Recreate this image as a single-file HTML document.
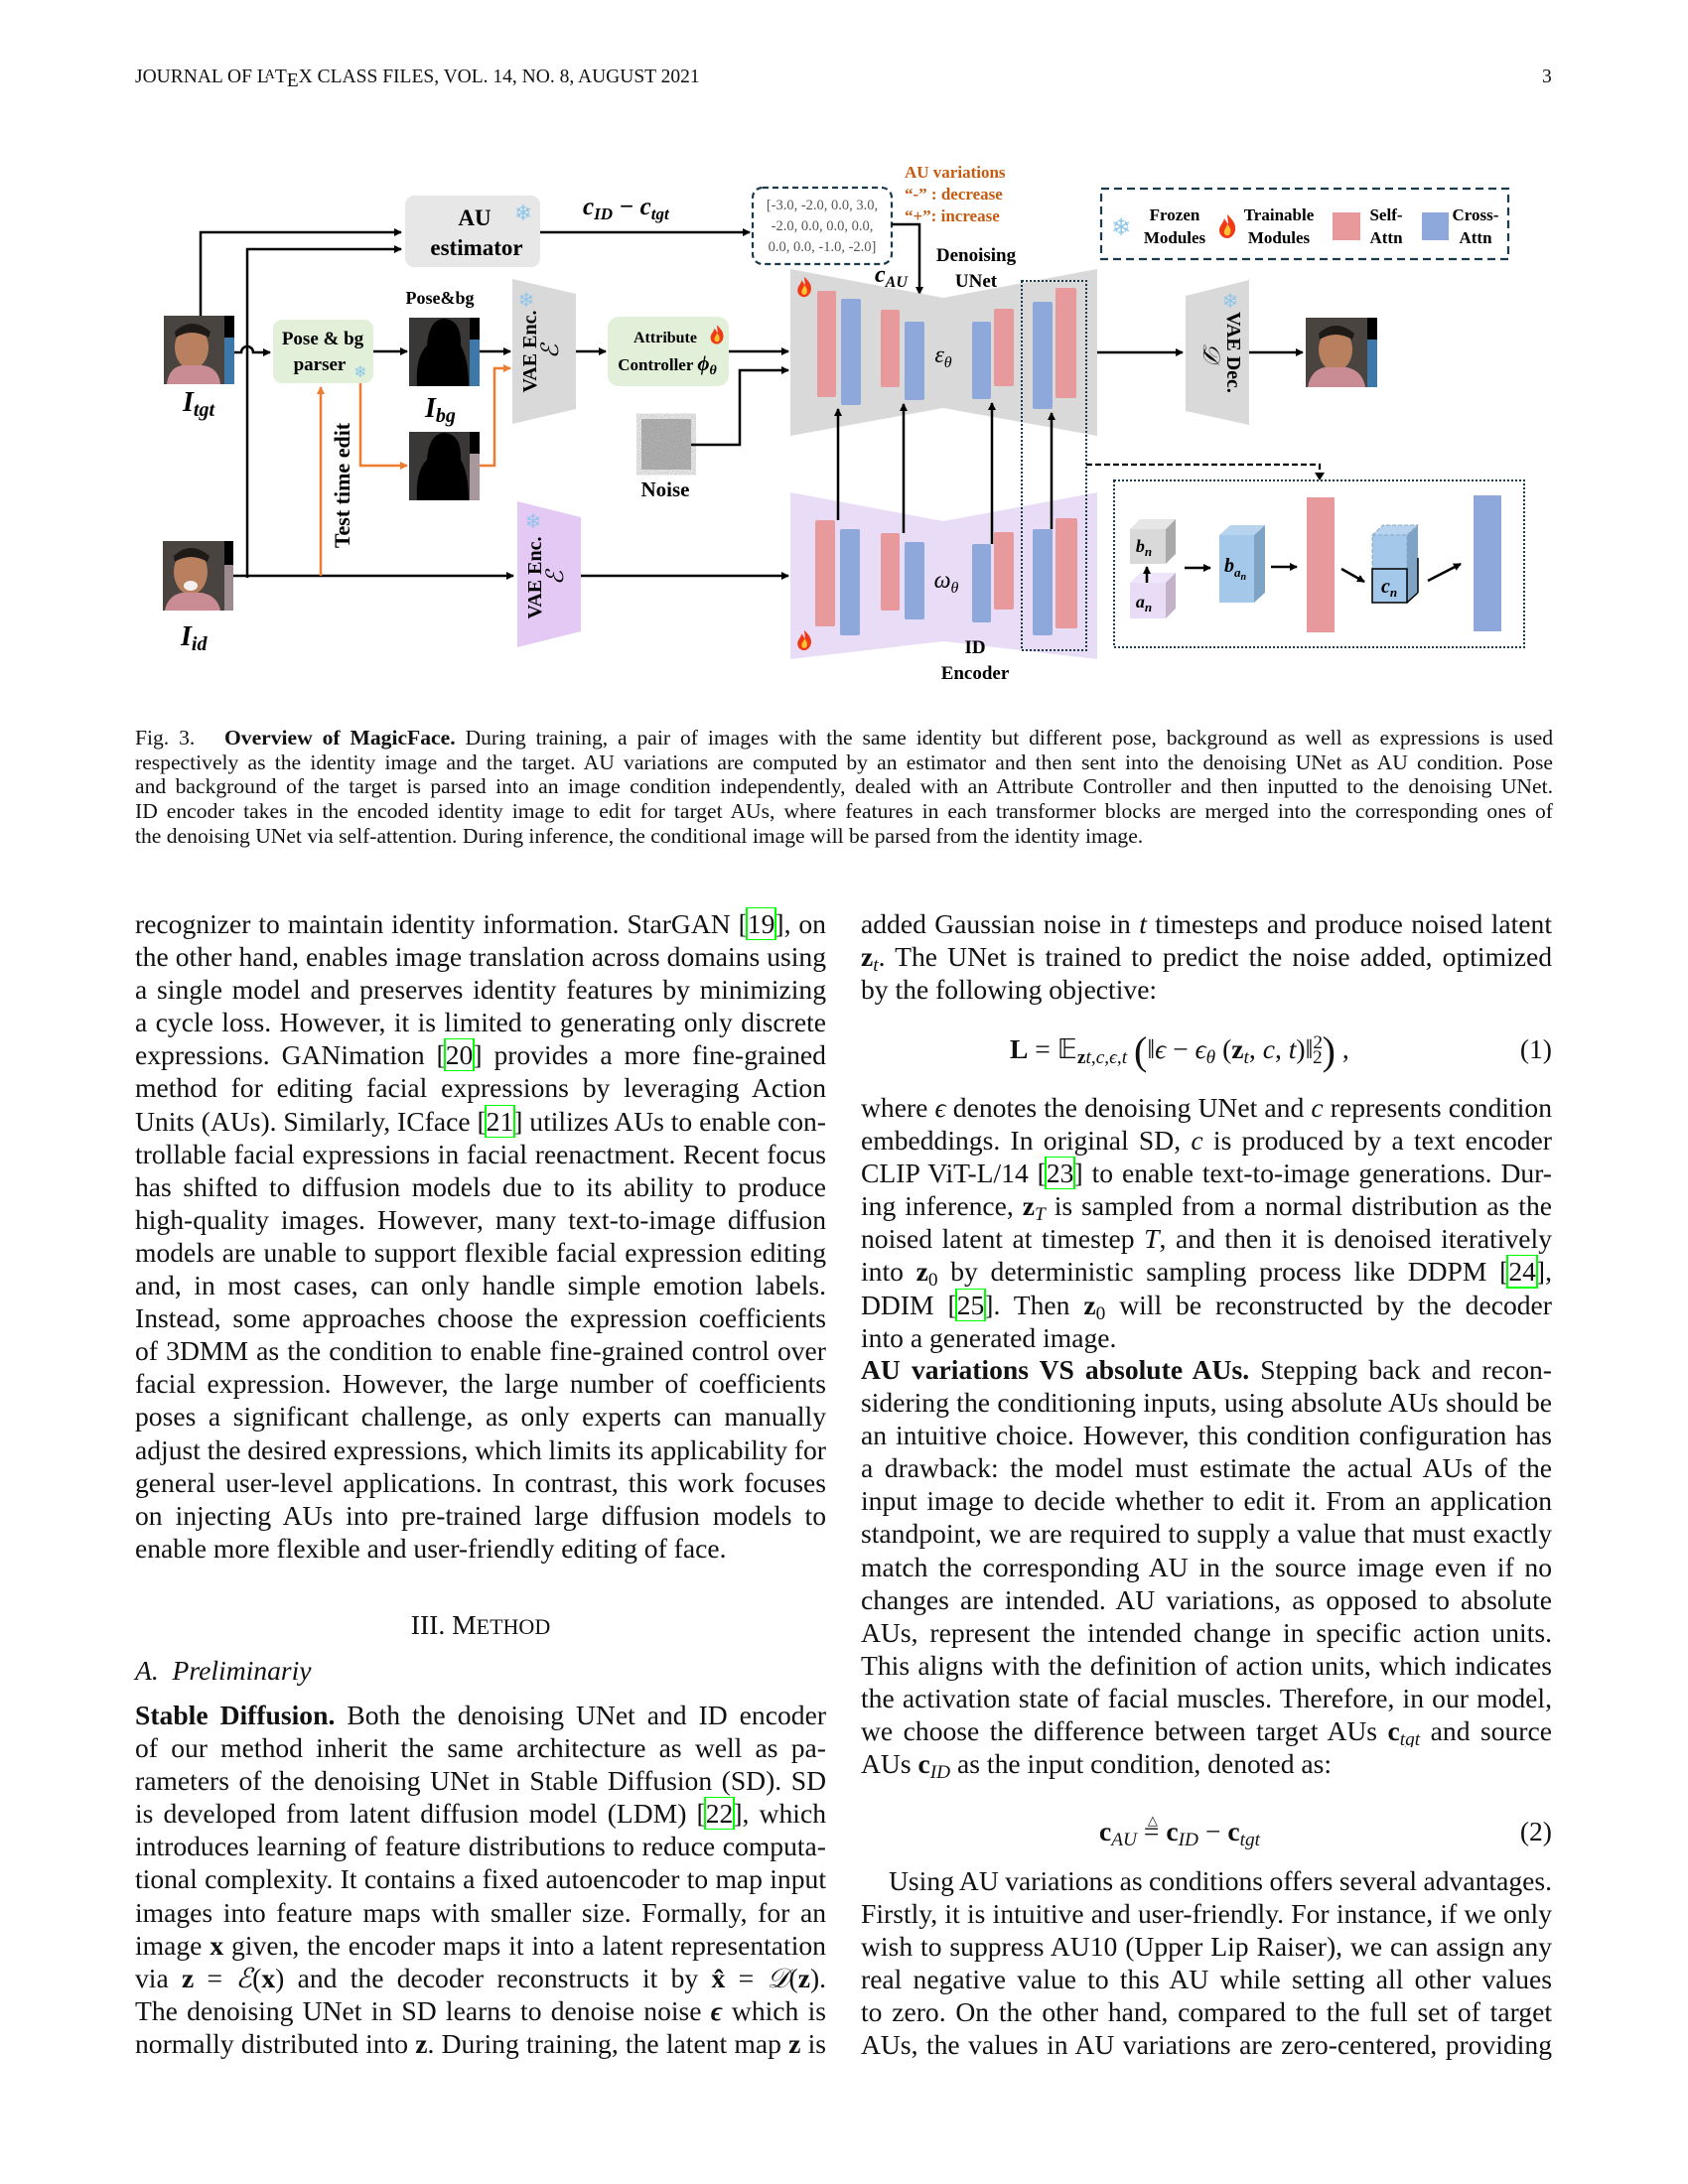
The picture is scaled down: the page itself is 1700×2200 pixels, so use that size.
<!DOCTYPE html>
<html><head><meta charset="utf-8">
<style>
*{margin:0;padding:0;box-sizing:border-box}
body{width:1700px;height:2200px;background:#fff;position:relative;overflow:hidden;font-family:"Liberation Serif",serif;color:#111}
.hdr{position:absolute;top:67px;font-size:19.5px;white-space:nowrap}
.col{position:absolute;width:696px;font-size:27.6px;line-height:33.1px}
.l{height:33.1px;overflow:hidden;text-align:justify;text-align-last:justify;white-space:normal;word-spacing:-3px}
.e{height:33.1px;overflow:hidden;text-align:left;white-space:nowrap}
.cap{position:absolute;left:136px;top:731px;width:1428px;font-size:21.6px;line-height:24.7px}
.cap .l,.cap .e{height:24.7px}
.r{outline:2px solid #00ff00;outline-offset:0}
b.m{font-weight:bold}
sub{font-size:0.7em;line-height:0;vertical-align:-0.25em}
sup{font-size:0.7em;line-height:0}
</style></head><body>
<div class="hdr" style="left:136px">JOURNAL OF L<span style="font-size:14px;vertical-align:4px;margin-left:-4px">A</span>T<span style="vertical-align:-4px">E</span>X CLASS FILES, VOL. 14, NO. 8, AUGUST 2021</div>
<div class="hdr" style="left:1553px">3</div>

<svg style="position:absolute;left:0;top:0" width="1700" height="700" viewBox="0 0 1700 700" font-family="Liberation Serif, serif">
<defs>
<marker id="ah" markerWidth="8" markerHeight="8" refX="7" refY="4" orient="auto" markerUnits="userSpaceOnUse"><path d="M0,0 L8,4 L0,8 z" fill="#000"/></marker>
<marker id="ao" markerWidth="8" markerHeight="8" refX="7" refY="4" orient="auto" markerUnits="userSpaceOnUse"><path d="M0,0 L8,4 L0,8 z" fill="#ed7d31"/></marker>
<filter id="nz"><feTurbulence type="fractalNoise" baseFrequency="0.9" numOctaves="2" seed="3"/><feColorMatrix type="saturate" values="0"/></filter>
<g id="fl"><path d="M0,-12 C6,-6 9,-2 8,4 C7,9 3,12 0,12 C-4,12 -8,9 -8,4 C-8,-1 -4,-3 -3,-8 C-1,-5 0,-3 1,-2 C1,-6 0,-9 0,-12z" fill="#f03a17"/><path d="M0,-2 C3,1 4,4 3,7 C2,10 -2,10 -3,7 C-4,4 -1,2 0,-2z" fill="#ffc531"/></g>
</defs>

<g>
<rect x="165" y="318" width="61" height="69" fill="#4a4440"/>
<ellipse cx="193" cy="350" rx="17" ry="22" fill="#b9805f"/>
<path d="M176,334 Q193,318 212,334 L210,340 Q193,330 177,340z" fill="#1e1a18"/>
<path d="M168,387 Q170,370 184,368 L204,368 Q220,370 222,387z" fill="#c98c95"/>
<rect x="226" y="318" width="10" height="22" fill="#000"/><rect x="226" y="340" width="10" height="47" fill="#3c78aa"/>
</g>
<text x="184" y="414" font-size="28" font-weight="bold" font-style="italic">I<tspan font-size="20" dy="5">tgt</tspan></text>
<g>
<rect x="164" y="545" width="62" height="70" fill="#4a4440"/>
<ellipse cx="192" cy="576" rx="17" ry="23" fill="#b9805f"/>
<path d="M175,560 Q192,544 211,560 L209,566 Q192,556 176,566z" fill="#1e1a18"/>
<ellipse cx="192" cy="590" rx="7" ry="5" fill="#f4f0ee"/>
<path d="M166,615 Q169,600 183,597 L203,597 Q219,600 222,615z" fill="#c98c95"/>
<rect x="226" y="545" width="9" height="24" fill="#000"/><rect x="226" y="569" width="9" height="46" fill="#9c8c92"/>
</g>
<text x="182" y="650" font-size="28" font-weight="bold" font-style="italic">I<tspan font-size="20" dy="5">id</tspan></text>

<rect x="408" y="197" width="136" height="72" rx="9" fill="#e7e7e7"/>
<text x="478" y="227" font-size="23" font-weight="bold" text-anchor="middle">AU</text>
<text x="480" y="257" font-size="23" font-weight="bold" text-anchor="middle">estimator</text>
<text x="527" y="222" font-size="22" fill="#8ec5e8" text-anchor="middle" font-family="DejaVu Sans">❄</text>
<text x="587" y="216" font-size="25" font-weight="bold" font-style="italic">c<tspan font-size="17" dy="5">ID</tspan><tspan dy="-5"> − c</tspan><tspan font-size="17" dy="5">tgt</tspan></text>

<polyline points="202,318 202,234 404,234" fill="none" stroke="#000" stroke-width="2.5" marker-end="url(#ah)"/>
<polyline points="249,582 249,251 404,251" fill="none" stroke="#000" stroke-width="2.5" marker-end="url(#ah)"/>
<path d="M236,355 L243,355 A6,6 0 0 1 255,355 L272,355" fill="none" stroke="#000" stroke-width="2.5" marker-end="url(#ah)"/>
<line x1="235" y1="580" x2="517" y2="580" stroke="#000" stroke-width="2.5" marker-end="url(#ah)"/>

<rect x="758" y="189" width="140" height="77" rx="10" fill="none" stroke="#1b3a4b" stroke-width="2.2" stroke-dasharray="6,4"/>
<text x="828" y="211" font-size="14.5" fill="#555" text-anchor="middle">[-3.0, -2.0, 0.0, 3.0,</text>
<text x="828" y="232" font-size="14.5" fill="#555" text-anchor="middle">-2.0, 0.0, 0.0, 0.0,</text>
<text x="828" y="253" font-size="14.5" fill="#555" text-anchor="middle">0.0, 0.0, -1.0, -2.0]</text>
<line x1="544" y1="234" x2="755" y2="234" stroke="#000" stroke-width="2.5" marker-end="url(#ah)"/>
<text x="911" y="179" font-size="17" font-weight="bold" fill="#c55a11">AU variations</text>
<text x="911" y="201" font-size="17" font-weight="bold" fill="#c55a11">“-” : decrease</text>
<text x="911" y="223" font-size="17" font-weight="bold" fill="#c55a11">“+”: increase</text>
<polyline points="898,226 926,226 926,296" fill="none" stroke="#000" stroke-width="2.5" marker-end="url(#ah)"/>
<text x="881" y="284" font-size="24" font-weight="bold" font-style="italic">c<tspan font-size="16" dy="5">AU</tspan></text>
<text x="983" y="263" font-size="19" font-weight="bold" text-anchor="middle">Denoising</text>
<text x="983" y="289" font-size="19" font-weight="bold" text-anchor="middle">UNet</text>

<rect x="275" y="322" width="101" height="64" rx="9" fill="#e2f0d9"/>
<text x="325" y="347" font-size="19" font-weight="bold" text-anchor="middle">Pose &amp; bg</text>
<text x="322" y="373" font-size="19" font-weight="bold" text-anchor="middle">parser</text>
<text x="363" y="380" font-size="16" fill="#8ec5e8" text-anchor="middle" font-family="DejaVu Sans">❄</text>
<text x="443" y="306" font-size="18" font-weight="bold" text-anchor="middle">Pose&amp;bg</text>
<line x1="376" y1="354" x2="410" y2="354" stroke="#000" stroke-width="2.5" marker-end="url(#ah)"/>

<rect x="412" y="320" width="61" height="69" fill="#3a3836"/>
<path d="M420,389 Q418,360 430,348 Q432,322 447,321 Q465,322 464,348 Q472,362 472,389z" fill="#000"/>
<rect x="473" y="320" width="10" height="22" fill="#000"/><rect x="473" y="342" width="10" height="47" fill="#3c78aa"/>
<text x="428" y="420" font-size="28" font-weight="bold" font-style="italic">I<tspan font-size="20" dy="5">bg</tspan></text>
<rect x="412" y="435" width="61" height="69" fill="#3a3836"/>
<path d="M420,504 Q418,475 430,463 Q432,437 447,436 Q465,437 464,463 Q472,477 472,504z" fill="#000"/>
<rect x="473" y="435" width="10" height="22" fill="#000"/><rect x="473" y="457" width="10" height="47" fill="#a8979d"/>
<line x1="483" y1="354" x2="514" y2="354" stroke="#000" stroke-width="2.5" marker-end="url(#ah)"/>

<line x1="323" y1="580" x2="323" y2="390" stroke="#ed7d31" stroke-width="2.5" marker-end="url(#ao)"/>
<polyline points="363,386 363,469 410,469" fill="none" stroke="#ed7d31" stroke-width="2.5" marker-end="url(#ao)"/>
<polyline points="483,469 498,469 498,371 514,371" fill="none" stroke="#ed7d31" stroke-width="2.5" marker-end="url(#ao)"/>
<text transform="translate(352,489) rotate(-90)" font-size="22" font-weight="bold" text-anchor="middle">Test time edit</text>

<polygon points="516,281 580,296 580,412 516,427" fill="#d9d9d9"/>
<text transform="translate(540,354) rotate(-90)" font-size="20" font-weight="bold" text-anchor="middle">VAE Enc.</text>
<text transform="translate(562,354) rotate(-90)" font-size="24" font-style="italic" text-anchor="middle">ℰ</text>
<text x="530" y="309" font-size="20" fill="#8ec5e8" text-anchor="middle" font-family="DejaVu Sans">❄</text>
<line x1="580" y1="354" x2="610" y2="354" stroke="#000" stroke-width="2.5" marker-end="url(#ah)"/>
<polygon points="521,505 585,521 585,636 521,652" fill="#e4c9f5"/>
<text transform="translate(545,582) rotate(-90)" font-size="20" font-weight="bold" text-anchor="middle">VAE Enc.</text>
<text transform="translate(567,582) rotate(-90)" font-size="24" font-style="italic" text-anchor="middle">ℰ</text>
<text x="537" y="532" font-size="20" fill="#8ec5e8" text-anchor="middle" font-family="DejaVu Sans">❄</text>
<line x1="585" y1="580" x2="794" y2="580" stroke="#000" stroke-width="2.5" marker-end="url(#ah)"/>

<rect x="612" y="319" width="122" height="70" rx="11" fill="#e2f0d9"/>
<text x="670" y="345" font-size="16" font-weight="bold" text-anchor="middle">Attribute</text>
<use href="#fl" transform="translate(722,337) scale(0.8)"/>
<text x="672" y="373" font-size="17" font-weight="bold" text-anchor="middle">Controller <tspan font-style="italic" font-size="21">ϕ</tspan><tspan font-style="italic" font-size="14" dy="4">θ</tspan></text>
<line x1="734" y1="354" x2="794" y2="354" stroke="#000" stroke-width="2.5" marker-end="url(#ah)"/>
<rect x="646" y="422" width="50" height="51" fill="#888" filter="url(#nz)"/>
<rect x="646" y="422" width="50" height="51" fill="#777" opacity="0.5"/>
<text x="670" y="500" font-size="21" font-weight="bold" text-anchor="middle">Noise</text>
<polyline points="696,448 745,448 745,373 794,373" fill="none" stroke="#000" stroke-width="2.5" marker-end="url(#ah)"/>

<polygon points="796,271 950,300 1105,271 1105,439 950,411 796,439" fill="#d9d9d9"/>
<g fill="#e8999b"><rect x="823" y="293" width="19" height="107" rx="2"/><rect x="887" y="312" width="19" height="78" rx="2"/><rect x="1001" y="311" width="20" height="78" rx="2"/><rect x="1063" y="290" width="21" height="111" rx="2"/></g>
<g fill="#8fa8dc"><rect x="847" y="301" width="20" height="107" rx="2"/><rect x="911" y="324" width="20" height="79" rx="2"/><rect x="979" y="324" width="19" height="78" rx="2"/><rect x="1040" y="304" width="20" height="108" rx="2"/></g>
<text x="950" y="365" font-size="24" font-style="italic" text-anchor="middle">ε<tspan font-size="16" dy="5">θ</tspan></text>
<use href="#fl" transform="translate(810,289) scale(0.85)"/>
<polygon points="796,496 950,525 1105,496 1105,664 950,646 796,664" fill="#e8dcf7"/>
<g fill="#e8999b"><rect x="821" y="524" width="20" height="107" rx="2"/><rect x="887" y="537" width="19" height="78" rx="2"/><rect x="1001" y="536" width="20" height="78" rx="2"/><rect x="1063" y="522" width="22" height="111" rx="2"/></g>
<g fill="#8fa8dc"><rect x="846" y="533" width="20" height="107" rx="2"/><rect x="911" y="546" width="20" height="78" rx="2"/><rect x="979" y="548" width="19" height="79" rx="2"/><rect x="1040" y="533" width="20" height="107" rx="2"/></g>
<text x="953" y="592" font-size="24" font-style="italic" text-anchor="middle">ω<tspan font-size="16" dy="5">θ</tspan></text>
<use href="#fl" transform="translate(810,645) scale(0.85)"/>
<text x="982" y="658" font-size="19" font-weight="bold" text-anchor="middle">ID</text>
<text x="982" y="684" font-size="19" font-weight="bold" text-anchor="middle">Encoder</text>
<g stroke="#000" stroke-width="2.5" marker-end="url(#ah)">
<line x1="844" y1="524" x2="844" y2="412"/><line x1="910" y1="537" x2="910" y2="407"/><line x1="999" y1="548" x2="999" y2="406"/><line x1="1059" y1="533" x2="1059" y2="416"/>
</g>
<rect x="1029" y="283" width="65" height="372" fill="none" stroke="#1b3a4b" stroke-width="2" stroke-dasharray="2,2"/>

<line x1="1105" y1="355" x2="1191" y2="355" stroke="#000" stroke-width="2.5" marker-end="url(#ah)"/>
<polygon points="1194,298 1258,282 1258,428 1194,414" fill="#d9d9d9"/>
<text transform="translate(1236,355) rotate(90)" font-size="20" font-weight="bold" text-anchor="middle">VAE Dec.</text>
<text transform="translate(1212,355) rotate(90)" font-size="24" font-style="italic" text-anchor="middle">𝒟</text>
<text x="1239" y="310" font-size="20" fill="#8ec5e8" text-anchor="middle" font-family="DejaVu Sans">❄</text>
<line x1="1258" y1="355" x2="1312" y2="355" stroke="#000" stroke-width="2.5" marker-end="url(#ah)"/>
<g>
<rect x="1315" y="320" width="62" height="70" fill="#4a4440"/>
<ellipse cx="1345" cy="352" rx="17" ry="22" fill="#b9805f"/>
<path d="M1328,336 Q1345,320 1364,336 L1362,342 Q1345,332 1329,342z" fill="#1e1a18"/>
<path d="M1317,390 Q1320,373 1334,370 L1356,370 Q1372,373 1375,390z" fill="#c98c95"/>
<rect x="1377" y="320" width="10" height="22" fill="#000"/><rect x="1377" y="342" width="10" height="48" fill="#3c78aa"/>
</g>

<rect x="1109" y="190" width="410" height="71" fill="none" stroke="#1b3a4b" stroke-width="2.2" stroke-dasharray="8,5"/>
<text x="1129" y="237" font-size="24" fill="#8ec5e8" text-anchor="middle" font-family="DejaVu Sans">❄</text>
<text x="1183" y="222" font-size="17" font-weight="bold" text-anchor="middle">Frozen</text>
<text x="1183" y="245" font-size="17" font-weight="bold" text-anchor="middle">Modules</text>
<use href="#fl" transform="translate(1236,228) scale(1)"/>
<text x="1288" y="222" font-size="17" font-weight="bold" text-anchor="middle">Trainable</text>
<text x="1288" y="245" font-size="17" font-weight="bold" text-anchor="middle">Modules</text>
<rect x="1342" y="214" width="28" height="28" fill="#e8999b"/>
<text x="1396" y="222" font-size="17" font-weight="bold" text-anchor="middle">Self-</text>
<text x="1396" y="245" font-size="17" font-weight="bold" text-anchor="middle">Attn</text>
<rect x="1432" y="214" width="27" height="28" fill="#8fa8dc"/>
<text x="1486" y="222" font-size="17" font-weight="bold" text-anchor="middle">Cross-</text>
<text x="1486" y="245" font-size="17" font-weight="bold" text-anchor="middle">Attn</text>

<polyline points="1094,468 1329,468 1329,481" fill="none" stroke="#000" stroke-width="2.2" stroke-dasharray="6,3"/>
<path d="M1324,476 L1329,484 L1334,476z" fill="#000"/>
<rect x="1122" y="484" width="413" height="168" fill="none" stroke="#1b3a4b" stroke-width="2" stroke-dasharray="2,2"/>
<polygon points="1138,533 1148,523 1184,523 1174,533" fill="#e6e6e6"/>
<polygon points="1174,533 1184,523 1184,558 1174,568" fill="#a9a9a9"/>
<rect x="1138" y="533" width="36" height="35" fill="#d9d9d9"/>
<text x="1152" y="556" font-size="18" font-weight="bold" font-style="italic" text-anchor="middle">b<tspan font-size="13" dy="4">n</tspan></text>
<polygon points="1138,587 1148,577 1184,577 1174,587" fill="#efe5fa"/>
<polygon points="1174,587 1184,577 1184,613 1174,623" fill="#c4b2c9"/>
<rect x="1138" y="587" width="36" height="36" fill="#e8dcf7"/>
<text x="1152" y="612" font-size="18" font-weight="bold" font-style="italic" text-anchor="middle">a<tspan font-size="13" dy="4">n</tspan></text>
<line x1="1155" y1="587" x2="1155" y2="571" stroke="#000" stroke-width="2.5" marker-end="url(#ah)"/>
<line x1="1193" y1="572" x2="1219" y2="572" stroke="#000" stroke-width="2.5" marker-end="url(#ah)"/>
<polygon points="1228,539 1239,529 1274,529 1263,539" fill="#b7d3ee"/>
<polygon points="1263,539 1274,529 1274,597 1263,607" fill="#7fa3c4"/>
<rect x="1228" y="539" width="35" height="68" fill="#a4c8ea"/>
<text x="1244" y="576" font-size="20" font-weight="bold" font-style="italic" text-anchor="middle">b<tspan font-size="13" dy="5">a</tspan><tspan font-size="10" dy="3">n</tspan></text>
<line x1="1280" y1="571" x2="1306" y2="571" stroke="#000" stroke-width="2.5" marker-end="url(#ah)"/>
<rect x="1316" y="501" width="28" height="136" fill="#e8999b"/>
<line x1="1351" y1="573" x2="1374" y2="586" stroke="#000" stroke-width="2.5" marker-end="url(#ah)"/>
<polygon points="1382,539 1393,529 1428,529 1417,539" fill="#b7d3ee" stroke="#8aa7c0" stroke-dasharray="4,2"/>
<rect x="1382" y="539" width="35" height="34" fill="#a4c8ea" stroke="#8aa7c0" stroke-dasharray="4,2"/>
<polygon points="1417,539 1428,529 1428,597 1417,607" fill="#7fa3c4"/>
<rect x="1382" y="573" width="35" height="34" fill="#a4c8ea" stroke="#000" stroke-width="1.5"/>
<line x1="1417" y1="607" x2="1428" y2="597" stroke="#000" stroke-width="1.5"/>
<line x1="1428" y1="597" x2="1428" y2="562" stroke="#000" stroke-width="1.5"/>
<text x="1399" y="597" font-size="20" font-weight="bold" font-style="italic" text-anchor="middle">c<tspan font-size="13" dy="4">n</tspan></text>
<line x1="1438" y1="585" x2="1471" y2="568" stroke="#000" stroke-width="2.5" marker-end="url(#ah)"/>
<rect x="1484" y="499" width="28" height="137" fill="#8fa8dc"/>
</svg>

<div class="cap">
<div class="l">Fig. 3.&nbsp;&nbsp; <b>Overview of MagicFace.</b> During training, a pair of images with the same identity but different pose, background as well as expressions is used</div>
<div class="l">respectively as the identity image and the target. AU variations are computed by an estimator and then sent into the denoising UNet as AU condition. Pose</div>
<div class="l">and background of the target is parsed into an image condition independently, dealed with an Attribute Controller and then inputted to the denoising UNet.</div>
<div class="l">ID encoder takes in the encoded identity image to edit for target AUs, where features in each transformer blocks are merged into the corresponding ones of</div>
<div class="e">the denoising UNet via self-attention. During inference, the conditional image will be parsed from the identity image.</div>
</div>

<div class="col" style="left:136px;top:914px">
<div class="l">recognizer to maintain identity information. StarGAN [<span class="r">19</span>], on</div>
<div class="l">the other hand, enables image translation across domains using</div>
<div class="l">a single model and preserves identity features by minimizing</div>
<div class="l">a cycle loss. However, it is limited to generating only discrete</div>
<div class="l">expressions. GANimation [<span class="r">20</span>] provides a more fine-grained</div>
<div class="l">method for editing facial expressions by leveraging Action</div>
<div class="l">Units (AUs). Similarly, ICface [<span class="r">21</span>] utilizes AUs to enable con-</div>
<div class="l">trollable facial expressions in facial reenactment. Recent focus</div>
<div class="l">has shifted to diffusion models due to its ability to produce</div>
<div class="l">high-quality images. However, many text-to-image diffusion</div>
<div class="l">models are unable to support flexible facial expression editing</div>
<div class="l">and, in most cases, can only handle simple emotion labels.</div>
<div class="l">Instead, some approaches choose the expression coefficients</div>
<div class="l">of 3DMM as the condition to enable fine-grained control over</div>
<div class="l">facial expression. However, the large number of coefficients</div>
<div class="l">poses a significant challenge, as only experts can manually</div>
<div class="l">adjust the desired expressions, which limits its applicability for</div>
<div class="l">general user-level applications. In contrast, this work focuses</div>
<div class="l">on injecting AUs into pre-trained large diffusion models to</div>
<div class="e">enable more flexible and user-friendly editing of face.</div>
</div>
<div class="col" style="left:136px;top:1620px;text-align:center">III. M<span style="font-size:22px">ETHOD</span></div>
<div class="col" style="left:136px;top:1666px;font-style:italic">A.&nbsp; Preliminariy</div>
<div class="col" style="left:136px;top:1711px">
<div class="l"><b>Stable Diffusion.</b> Both the denoising UNet and ID encoder</div>
<div class="l">of our method inherit the same architecture as well as pa-</div>
<div class="l">rameters of the denoising UNet in Stable Diffusion (SD). SD</div>
<div class="l">is developed from latent diffusion model (LDM) [<span class="r">22</span>], which</div>
<div class="l">introduces learning of feature distributions to reduce computa-</div>
<div class="l">tional complexity. It contains a fixed autoencoder to map input</div>
<div class="l">images into feature maps with smaller size. Formally, for an</div>
<div class="l">image <b>x</b> given, the encoder maps it into a latent representation</div>
<div class="l">via <b>z</b> = <i>ℰ</i>(<b>x</b>) and the decoder reconstructs it by <b>x̂</b> = <i>𝒟</i>(<b>z</b>).</div>
<div class="l">The denoising UNet in SD learns to denoise noise <b><i>ϵ</i></b> which is</div>
<div class="l">normally distributed into <b>z</b>. During training, the latent map <b>z</b> is</div>
</div>

<div class="col" style="left:867px;top:914px">
<div class="l">added Gaussian noise in <i>t</i> timesteps and produce noised latent</div>
<div class="l"><b>z</b><sub><i>t</i></sub>. The UNet is trained to predict the noise added, optimized</div>
<div class="e">by the following objective:</div>
</div>
<div class="col" style="left:867px;top:1040px;height:44px">
<div style="position:absolute;left:150px;top:0;white-space:nowrap"><b>L</b> = 𝔼<sub><b>z</b><i>t</i>,<i>c</i>,<i>ϵ</i>,<i>t</i></sub> <span style="font-size:40px;vertical-align:-6px">(</span>‖<i>ϵ</i> − <i>ϵ</i><sub><i>θ</i></sub> (<b>z</b><sub><i>t</i></sub>, <i>c</i>, <i>t</i>)‖<sup>2</sup><sub style="margin-left:-10px">2</sub><span style="font-size:40px;vertical-align:-6px">)</span> ,</div>
<div style="position:absolute;right:0;top:0">(1)</div>
</div>
<div class="col" style="left:867px;top:1099px">
<div class="l">where <i>ϵ</i> denotes the denoising UNet and <i>c</i> represents condition</div>
<div class="l">embeddings. In original SD, <i>c</i> is produced by a text encoder</div>
<div class="l">CLIP ViT-L/14 [<span class="r">23</span>] to enable text-to-image generations. Dur-</div>
<div class="l">ing inference, <b>z</b><sub><i>T</i></sub> is sampled from a normal distribution as the</div>
<div class="l">noised latent at timestep <i>T</i>, and then it is denoised iteratively</div>
<div class="l">into <b>z</b><sub>0</sub> by deterministic sampling process like DDPM [<span class="r">24</span>],</div>
<div class="l">DDIM [<span class="r">25</span>]. Then <b>z</b><sub>0</sub> will be reconstructed by the decoder</div>
<div class="e">into a generated image.</div>
</div>
<div class="col" style="left:867px;top:1363px">
<div class="l"><b>AU variations VS absolute AUs.</b> Stepping back and recon-</div>
<div class="l">sidering the conditioning inputs, using absolute AUs should be</div>
<div class="l">an intuitive choice. However, this condition configuration has</div>
<div class="l">a drawback: the model must estimate the actual AUs of the</div>
<div class="l">input image to decide whether to edit it. From an application</div>
<div class="l">standpoint, we are required to supply a value that must exactly</div>
<div class="l">match the corresponding AU in the source image even if no</div>
<div class="l">changes are intended. AU variations, as opposed to absolute</div>
<div class="l">AUs, represent the intended change in specific action units.</div>
<div class="l">This aligns with the definition of action units, which indicates</div>
<div class="l">the activation state of facial muscles. Therefore, in our model,</div>
<div class="l">we choose the difference between target AUs <b>c</b><sub><i>tgt</i></sub> and source</div>
<div class="e">AUs <b>c</b><sub><i>ID</i></sub> as the input condition, denoted as:</div>
</div>
<div class="col" style="left:867px;top:1828px">
<div style="position:absolute;left:240px;top:0;white-space:nowrap"><b>c</b><sub><i>AU</i></sub> <span style="position:relative">=<span style="position:absolute;left:4px;top:-12px;font-size:13px">△</span></span> <b>c</b><sub><i>ID</i></sub> − <b>c</b><sub><i>tgt</i></sub></div>
<div style="position:absolute;right:0;top:0">(2)</div>
</div>
<div class="col" style="left:867px;top:1878px">
<div class="l" style="padding-left:28px">Using AU variations as conditions offers several advantages.</div>
<div class="l">Firstly, it is intuitive and user-friendly. For instance, if we only</div>
<div class="l">wish to suppress AU10 (Upper Lip Raiser), we can assign any</div>
<div class="l">real negative value to this AU while setting all other values</div>
<div class="l">to zero. On the other hand, compared to the full set of target</div>
<div class="l">AUs, the values in AU variations are zero-centered, providing</div>
</div>
</body></html>
